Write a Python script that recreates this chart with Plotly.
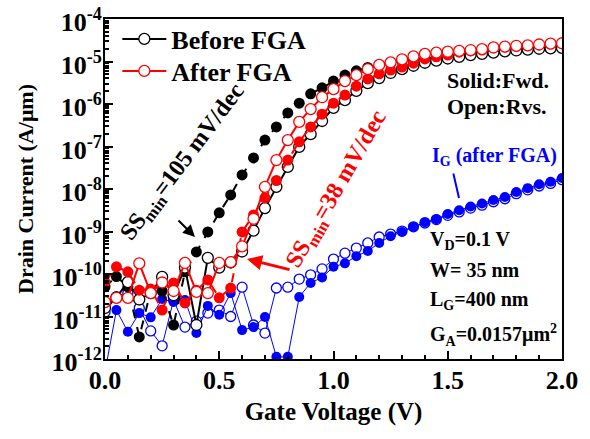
import plotly.graph_objects as go

# Gate voltage sweep (V)
vg = [round(0.05 * i, 2) for i in range(41)]

# log10 of current (A/um)
before_fwd_log = [-10.3, -10.06, -10.3, -11.48, -10.4, -10.4, -11.2, -9.95, -9.48, -9.01,
                  -8.56, -8.14, -7.67, -7.27, -6.85, -6.54, -6.21, -5.98, -5.76, -5.62,
                  -5.46, -5.32, -5.22, -5.14, -5.08, -5.03, -4.99, -4.96, -4.93, -4.9,
                  -4.87, -4.84, -4.81, -4.79, -4.76, -4.74, -4.72, -4.71, -4.69, -4.67, -4.66]
before_rvs_log = [-10.8, -10.55, -10.19, -10.6, -10.45, -10.07, -10.5, -9.85, -11.2, -9.62,
                  -9.85, -9.73, -9.47, -8.98, -8.45, -7.95, -7.48, -7.01, -6.71, -6.4,
                  -6.09, -5.91, -5.69, -5.51, -5.39, -5.27, -5.18, -5.1, -5.03, -4.98,
                  -4.93, -4.89, -4.85, -4.82, -4.79, -4.76, -4.74, -4.72, -4.7, -4.69, -4.68]
after_fwd_log = [-10.19, -9.83, -9.95, -10.38, -10.35, -10.85, -10.21, -10.68, -10.38, -10.14,
                 -10.56, -10.33, -9.01, -8.61, -8.21, -7.8, -7.32, -6.89, -6.54, -6.24,
                 -5.98, -5.79, -5.58, -5.41, -5.29, -5.2, -5.13, -5.04, -4.94, -4.89,
                 -4.85, -4.78, -4.75, -4.73, -4.68, -4.66, -4.64, -4.63, -4.61, -4.59, -4.58]
after_rvs_log = [-10.66, -10.56, -10.56, -9.75, -10.45, -10.2, -10.4, -9.74, -10.42, -10.45,
                 -9.74, -9.72, -9.35, -8.7, -7.95, -7.32, -6.85, -6.42, -6.12, -5.84,
                 -5.65, -5.46, -5.32, -5.18, -5.08, -5.02, -4.95, -4.88, -4.82, -4.79,
                 -4.77, -4.75, -4.73, -4.71, -4.67, -4.65, -4.63, -4.62, -4.6, -4.58, -4.57]
ig_fwd_log = [-12.3, -10.85, -11.36, -10.92, -11.02, -10.59, -10.66, -10.61, -11.39, -10.75,
              -10.96, -10.45, -11.32, -11.25, -11.01, -11.95, -11.95, -10.54, -10.21, -10.08,
              -9.83, -9.75, -9.58, -9.46, -9.27, -9.11, -9.01, -8.89, -8.78, -8.71,
              -8.59, -8.5, -8.41, -8.34, -8.26, -8.19, -8.07, -7.98, -7.89, -7.83, -7.74]
ig_rvs_log = [-10.9, -10.54, -10.45, -10.8, -11.34, -11.69, -10.61, -11.25, -11.11, -10.92,
              -10.85, -11.0, -10.31, -11.2, -11.39, -10.33, -10.31, -10.12, -10.02, -9.88,
              -9.65, -9.51, -9.39, -9.27, -9.13, -9.06, -8.99, -8.89, -8.8, -8.72,
              -8.62, -8.54, -8.45, -8.38, -8.3, -8.23, -8.11, -8.02, -7.93, -7.87, -7.78]

decades = [-12, -11, -10, -9, -8, -7, -6, -5, -4]
ytick_text = ["10<sup>%d</sup>" % d for d in decades]
xtick_vals = [0.0, 0.5, 1.0, 1.5, 2.0]
xtick_text = ["0.0", "0.5", "1.0", "1.5", "2.0"]


def lin(vals):
    return [10 ** v for v in vals]


FONT = "Liberation Serif"
fig = go.Figure()

# gate current (after FGA)
fig.add_trace(go.Scatter(x=vg, y=lin(ig_rvs_log), mode="lines+markers", showlegend=False,
                         line=dict(color="#0000ff", width=1),
                         marker=dict(symbol="circle", size=10, color="white",
                                     line=dict(color="#0000ff", width=1.3))))
fig.add_trace(go.Scatter(x=vg, y=lin(ig_fwd_log), mode="lines+markers", showlegend=False,
                         line=dict(color="#0000ff", width=1),
                         marker=dict(symbol="circle", size=10, color="#0000ff")))
# before FGA
fig.add_trace(go.Scatter(x=vg, y=lin(before_fwd_log), mode="lines+markers", showlegend=False,
                         line=dict(color="black", width=2, dash="dash"),
                         marker=dict(symbol="circle", size=11, color="black")))
fig.add_trace(go.Scatter(x=vg, y=lin(before_rvs_log), mode="lines+markers", name="Before FGA",
                         legend="legend",
                         line=dict(color="black", width=2),
                         marker=dict(symbol="circle", size=11, color="white",
                                     line=dict(color="black", width=1.3))))
# after FGA
fig.add_trace(go.Scatter(x=vg, y=lin(after_fwd_log), mode="lines+markers", showlegend=False,
                         line=dict(color="#ff0000", width=2, dash="dash"),
                         marker=dict(symbol="circle", size=11, color="#ff0000")))
fig.add_trace(go.Scatter(x=vg, y=lin(after_rvs_log), mode="lines+markers", name="After FGA",
                         legend="legend2",
                         line=dict(color="#ff0000", width=2),
                         marker=dict(symbol="circle", size=11, color="white",
                                     line=dict(color="#ff0000", width=1.3))))

L, R, T, B = 105, 28, 19, 80
PW, PH = 590 - L - R, 439 - T - B


def px(x):
    return (x - L) / PW


def py(y):
    return 1 - (y - T) / PH


def txt(x, y, s, size=20, color="black", angle=0, xanchor="left"):
    fig.add_annotation(x=px(x), y=py(y), xref="paper", yref="paper", text=s, showarrow=False,
                       xanchor=xanchor, yanchor="middle", textangle=angle,
                       font=dict(family=FONT, size=size, color=color, weight="bold"))


txt(445, 80, "Solid:Fwd.", size=22)
txt(445, 107, "Open:Rvs.", size=22)
txt(430, 156, "I<sub>G</sub> (after FGA)", color="#0000ff")
txt(428, 240, "V<sub>D</sub>=0.1 V")
txt(428, 270, "W= 35 nm")
txt(428, 300, "L<sub>G</sub>=400 nm")
txt(428, 335, "G<sub>A</sub>=0.0157μm<sup>2</sup>")
txt(183, 163, "SS<sub>min</sub>=105 mV/dec", size=24, angle=-53, xanchor="center")
txt(337, 190, "SS<sub>min</sub>=38 mV/dec", size=24, color="#ff0000", angle=-60, xanchor="center")

# arrows
fig.add_annotation(x=px(195), y=py(237), xref="paper", yref="paper", ax=-18, ay=-18,
                   text="", showarrow=True, arrowhead=2, arrowsize=1.2, arrowwidth=2,
                   arrowcolor="black")
fig.add_annotation(x=px(247), y=py(259), xref="paper", yref="paper", ax=44, ay=11,
                   text="", showarrow=True, arrowhead=2, arrowsize=1, arrowwidth=3,
                   arrowcolor="#ff0000")
fig.add_annotation(x=px(459), y=py(198), xref="paper", yref="paper", ax=-6, ay=-26,
                   text="", showarrow=True, arrowhead=0, arrowwidth=2, arrowcolor="#0000ff")

legend_font = dict(family=FONT, size=26, color="black", weight="bold")
fig.update_layout(
    width=590, height=439,
    margin=dict(l=L, r=R, t=T, b=B, autoexpand=False),
    plot_bgcolor="white", paper_bgcolor="white",
    font=dict(family=FONT, size=22, color="black", weight="bold"),
    legend=dict(x=0.027, y=py(39), xanchor="left", yanchor="middle", bgcolor="rgba(0,0,0,0)",
                font=legend_font, itemwidth=44),
    legend2=dict(x=0.027, y=py(71), xanchor="left", yanchor="middle", bgcolor="rgba(0,0,0,0)",
                 font=legend_font, itemwidth=44),
)
fig.update_xaxes(range=[0, 2], tickvals=xtick_vals, ticktext=xtick_text, automargin=False,
                 ticks="inside", ticklen=8, tickwidth=2, tickcolor="black",
                 showline=True, linewidth=2, linecolor="black", mirror=True,
                 showgrid=False, zeroline=False, ticklabelstandoff=-3,
                 ticklabeloverflow="allow",
                 minor=dict(dtick=0.1, ticks="inside", ticklen=4, tickwidth=1.5, tickcolor="black"),
                 tickfont=dict(family=FONT, size=26, color="black", weight="bold"),
                 title=dict(text="Gate Voltage (V)", standoff=8,
                            font=dict(family=FONT, size=25, color="black", weight="bold")))
fig.update_yaxes(type="log", range=[-12, -4], tickvals=[10 ** d for d in decades], ticktext=ytick_text,
                 automargin=False, ticklabelstandoff=-4, ticklabelshift=3,
                 ticklabeloverflow="allow",
                 ticks="inside", ticklen=8, tickwidth=2, tickcolor="black",
                 showline=True, linewidth=2, linecolor="black", mirror=True,
                 showgrid=False, zeroline=False,
                 minor=dict(dtick="D1", ticks="inside", ticklen=4, tickwidth=1.5, tickcolor="black"),
                 tickfont=dict(family=FONT, size=26, color="black", weight="bold"),
                 title=dict(text="Drain Current (A/μm)", standoff=12,
                            font=dict(family=FONT, size=22, color="black", weight="bold")))

fig.write_html("out.html", config={"displayModeBar": False},
               post_script="document.body.style.margin='0px';")
